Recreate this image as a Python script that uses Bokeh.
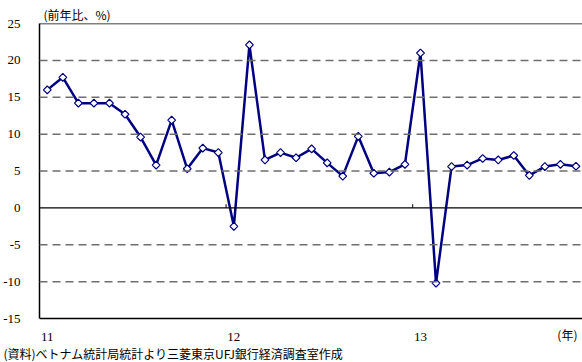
import numpy as np
from bokeh.plotting import figure
from bokeh.models import Span, Title, FixedTicker, ColumnDataSource
from bokeh.core.properties import value
from bokeh.embed import file_html
from bokeh.resources import INLINE

# ---- data ----
years = [2011]*12 + [2012]*12 + [2013]*11
months = list(range(1, 13)) + list(range(1, 13)) + list(range(1, 12))
values = [16.0, 17.7, 14.2, 14.2, 14.2, 12.7, 9.6, 5.8, 11.9, 5.3, 8.1, 7.5,
          -2.5, 22.1, 6.5, 7.5, 6.8, 8.0, 6.1, 4.3, 9.7, 4.7, 4.85, 5.9,
          21.0, -10.2, 5.6, 5.8, 6.7, 6.5, 7.1, 4.4, 5.6, 5.9, 5.65]
y_ticks = [-15, -10, -5, 0, 5, 10, 15, 20, 25]
year_labels = ["11", "12", "13"]
unit_label = "(前年比、%)"
year_unit = "(年)"
source_text = "(資料)ベトナム統計局統計より三菱東京UFJ銀行経済調査室作成"

idx = list(range(len(values)))
jan_idx = [i for i, m in zip(idx, months) if m == 1]

NUM_FONT = "Liberation Serif"
CJK_FONT = "Noto Sans CJK JP"
NAVY = "#000080"

ymin, ymax = y_ticks[0], y_ticks[-1]
px_per_unit = 295 / (ymax - ymin)
pad = 24 / px_per_unit  # room under the plot box for the year labels

p = figure(width=582, height=362, output_backend="svg", toolbar_location=None,
           x_range=(-0.5, 34.42), y_range=(ymin - pad, ymax),
           min_border_left=39, min_border_right=0, min_border_top=23,
           min_border_bottom=20)
p.outline_line_color = None
p.background_fill_color = "white"
p.border_fill_color = "white"
p.xgrid.visible = False
p.ygrid.visible = False
p.xaxis.visible = False

# y axis
p.yaxis.ticker = FixedTicker(ticks=y_ticks)
p.yaxis.bounds = (ymin, ymax)
p.yaxis.major_label_overrides = {t: str(t) for t in y_ticks}
p.yaxis.axis_line_color = "black"
p.yaxis.axis_line_width = 1.5
p.yaxis.major_tick_line_color = None
p.yaxis.minor_tick_line_color = None
p.yaxis.major_label_standoff = 13
p.yaxis.major_label_text_font = NUM_FONT
p.yaxis.major_label_text_font_size = "13px"
p.yaxis.major_label_text_color = "black"

# horizontal lines
for t in y_ticks:
    if t in (ymin, ymax):
        p.add_layout(Span(location=t, dimension="width", line_color="black", line_width=1.5))
    elif t == 0:
        p.add_layout(Span(location=t, dimension="width", line_color="black", line_width=1.2))
    else:
        p.add_layout(Span(location=t, dimension="width", line_color="#6e6e6e",
                          line_width=1.5, line_dash="8 5"))

# year boundary tick marks on the zero line
bx = [i - 0.5 for i in jan_idx[1:]]
p.segment(x0=bx, y0=[0]*len(bx), x1=bx, y1=[0.5]*len(bx), line_color="black", line_width=1)

src = ColumnDataSource(dict(x=idx, y=values))
p.line("x", "y", source=src, line_color=NAVY, line_width=2.5)
p.scatter("x", "y", source=src, marker="square", angle=np.pi/4, size=5.5,
          fill_color="white", line_color=NAVY, line_width=1.2)

# year labels under the box
p.text(x=jan_idx, y=[ymin]*len(jan_idx), text=year_labels, y_offset=18,
       text_font=value(NUM_FONT), text_font_size="13px", text_align="center",
       text_baseline="middle", text_color="black")
p.text(x=[33.45], y=[ymin], text=[year_unit], y_offset=16,
       text_font=value(CJK_FONT), text_font_size="12px", text_align="center",
       text_baseline="middle", text_color="black")

# titles
p.title.text = unit_label
p.title.align = "left"
p.title.offset = 4
p.title.standoff = 2
p.title.text_font = CJK_FONT
p.title.text_font_size = "12px"
p.title.text_font_style = "normal"
p.title.text_color = "black"

src_title = Title(text=source_text, align="left", offset=-36, standoff=0,
                  text_font=CJK_FONT, text_font_size="12px", text_font_style="normal",
                  text_color="black")
p.add_layout(src_title, "below")

open("out.html", "w").write(file_html(p, INLINE))
